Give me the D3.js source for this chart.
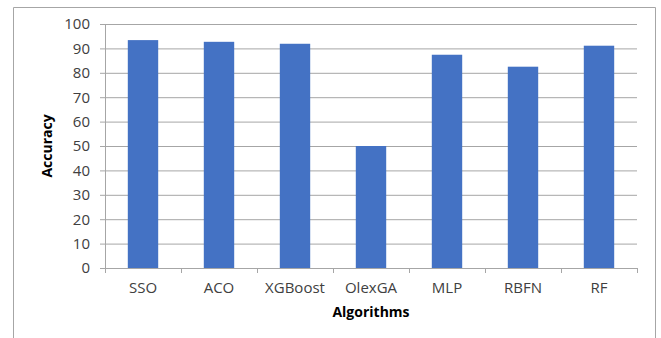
<html>
<head>
    <script src="https://cdnjs.cloudflare.com/ajax/libs/d3/7.8.5/d3.min.js"></script>
    <style>
        body { margin: 0; background: #fff; }
        text { font-family: "Open Sans", sans-serif; }
    </style>
</head>
<body>
    <script>
        var algorithms = ["SSO", "ACO", "XGBoost", "OlexGA", "MLP", "RBFN", "RF"];
        var accuracy = [93.4, 92.7, 91.9, 50, 87.4, 82.5, 91.1];
        var yTicks = [0, 10, 20, 30, 40, 50, 60, 70, 80, 90, 100];

        var svg = d3.select("body").append("svg")
            .attr("width", 661)
            .attr("height", 338);

        // outer frame (bottom edge is cut off in the picture)
        svg.append("path")
            .attr("d", "M13.5,340 V7.5 H655.5 V340")
            .attr("fill", "none")
            .attr("stroke", "#a6a6a6")
            .attr("stroke-width", 1);

        var plotL = 105, plotR = 637, plotT = 24, plotB = 268;

        var x = d3.scaleBand()
            .domain(algorithms)
            .range([plotL, plotR])
            .paddingInner(0.6)
            .paddingOuter(0.3);

        var xEdge = d3.scaleBand()
            .domain(algorithms)
            .range([plotL, plotR]);

        var y = d3.scaleLinear()
            .domain([0, 100])
            .range([plotB, plotT]);

        // gridlines + y labels (gridlines stick out 5px left of the axis)
        var yAxis = d3.axisLeft(y)
            .tickValues(yTicks)
            .tickSize(-(plotR - plotL + 5))
            .tickPadding(10)
            .tickFormat(d3.format("d"));

        var yG = svg.append("g")
            .attr("transform", "translate(" + (plotL - 5) + ",0)")
            .call(yAxis);
        yG.select(".domain").remove();
        yG.selectAll("line").attr("stroke", "#a6a6a6");
        yG.selectAll("text")
            .attr("font-size", 15)
            .attr("font-family", "Open Sans, sans-serif")
            .attr("fill", "#404040");

        // y axis line
        svg.append("line")
            .attr("x1", plotL + 0.5).attr("x2", plotL + 0.5)
            .attr("y1", y(100)).attr("y2", y(0))
            .attr("stroke", "#a6a6a6");

        // bars
        svg.selectAll("rect.bar")
            .data(algorithms)
            .enter().append("rect")
            .attr("class", "bar")
            .attr("x", function (d) { return x(d); })
            .attr("width", x.bandwidth())
            .attr("y", function (d, i) { return y(accuracy[i]); })
            .attr("height", function (d, i) { return y(0) - y(accuracy[i]); })
            .attr("fill", "#4472c4");

        // x axis line + ticks at category edges
        var xG = svg.append("g");
        xG.append("line")
            .attr("x1", plotL).attr("x2", plotR)
            .attr("y1", y(0) + 0.5).attr("y2", y(0) + 0.5)
            .attr("stroke", "#a6a6a6");
        var edges = algorithms.map(function (d) { return xEdge(d); }).concat([plotR]);
        xG.selectAll("line.tick")
            .data(edges)
            .enter().append("line")
            .attr("class", "tick")
            .attr("x1", function (d) { return Math.round(d) + 0.5; })
            .attr("x2", function (d) { return Math.round(d) + 0.5; })
            .attr("y1", y(0))
            .attr("y2", y(0) + 5)
            .attr("stroke", "#a6a6a6");
        xG.selectAll("text")
            .data(algorithms)
            .enter().append("text")
            .attr("x", function (d) { return xEdge(d) + xEdge.bandwidth() / 2; })
            .attr("y", y(0) + 25)
            .attr("text-anchor", "middle")
            .attr("font-size", 15)
            .attr("fill", "#404040")
            .text(function (d) { return d; });

        // axis titles
        svg.append("text")
            .attr("x", (plotL + plotR) / 2)
            .attr("y", 317)
            .attr("text-anchor", "middle")
            .attr("font-size", 14)
            .attr("font-weight", "bold")
            .attr("fill", "#000")
            .text("Algorithms");

        svg.append("text")
            .attr("transform", "translate(52," + ((plotT + plotB) / 2) + ") rotate(-90)")
            .attr("text-anchor", "middle")
            .attr("font-size", 14)
            .attr("font-weight", "bold")
            .attr("fill", "#000")
            .text("Accuracy");
    </script>
</body>
</html>
